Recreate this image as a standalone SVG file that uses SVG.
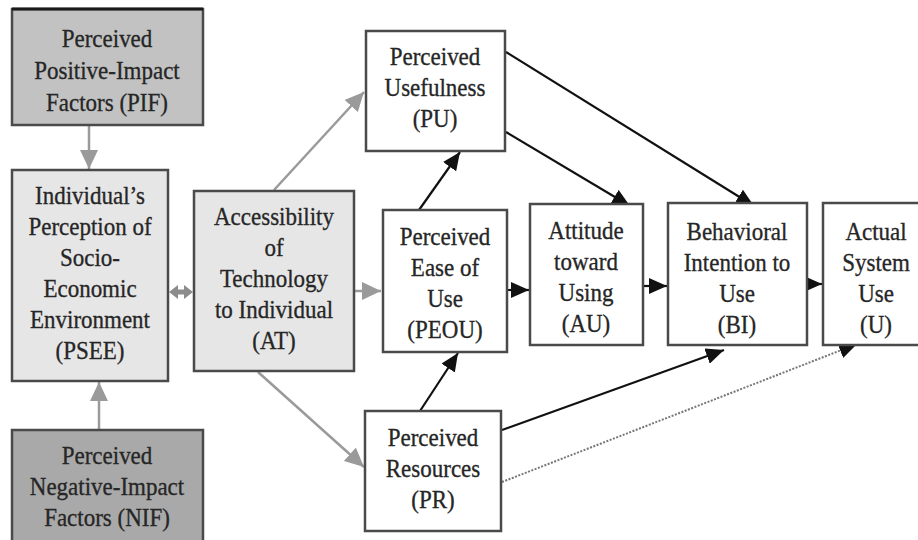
<svg xmlns="http://www.w3.org/2000/svg" width="918" height="540" viewBox="0 0 918 540">
  <style>
    .box { stroke: #4a4a4a; stroke-width: 2.5; }
    .white { fill: #ffffff; }
    .light { fill: #e6e6e6; }
    .mid { fill: #c2c2c2; }
    .dark { fill: #a9a9a9; }
    .t { font-family: "Liberation Serif", "Times New Roman", serif; font-size: 23px; fill: #262626; stroke: #262626; stroke-width: 0.3; text-anchor: middle; }
    .g { stroke: #9a9a9a; stroke-width: 2.5; fill: none; }
    .k { stroke: #111111; stroke-width: 2.2; fill: none; }
    .d { stroke: #777777; stroke-width: 2; fill: none; stroke-dasharray: 2 1.5; }
  </style>
  <defs>
    <marker id="gh" markerUnits="userSpaceOnUse" markerWidth="20" markerHeight="18" refX="19" refY="9" orient="auto">
      <path d="M0,0 L19,9 L0,18 z" fill="#9a9a9a"/>
    </marker>
    <marker id="kh" markerUnits="userSpaceOnUse" markerWidth="19" markerHeight="16" refX="18" refY="8" orient="auto">
      <path d="M0,0 L18,8 L0,16 z" fill="#111111"/>
    </marker>
  </defs>

  <rect width="918" height="540" fill="#ffffff"/>

  <!-- connectors -->
  <g id="connectors">
    <line class="g" x1="89" y1="126" x2="89" y2="169" marker-end="url(#gh)"/>
    <line class="g" x1="99" y1="430" x2="99" y2="382" marker-end="url(#gh)"/>
    <!-- short two-way link PSEE <-> AT -->
    <path d="M169,292 L178,285 L178,289.5 L184,289.5 L184,285 L193,292 L184,299 L184,294.5 L178,294.5 L178,299 Z" fill="#8c8c8c"/>
    <line class="g" x1="274" y1="190" x2="364" y2="92" marker-end="url(#gh)"/>
    <line class="g" x1="355" y1="291" x2="381" y2="291" marker-end="url(#gh)"/>
    <line class="g" x1="258" y1="372" x2="364" y2="467" marker-end="url(#gh)"/>

    <line class="k" x1="419" y1="210" x2="460" y2="152" marker-end="url(#kh)"/>
    <line class="k" x1="506" y1="132" x2="630" y2="206" marker-end="url(#kh)"/>
    <line class="k" x1="506" y1="52" x2="754" y2="206" marker-end="url(#kh)"/>
    <line class="k" x1="508" y1="290" x2="529" y2="290" marker-end="url(#kh)"/>
    <line class="k" x1="644" y1="286" x2="667" y2="286" marker-end="url(#kh)"/>
    <line class="k" x1="808" y1="284" x2="822" y2="284" marker-end="url(#kh)"/>
    <line class="k" x1="420" y1="411" x2="458" y2="353" marker-end="url(#kh)"/>
    <line class="k" x1="502" y1="430" x2="724" y2="350" marker-end="url(#kh)"/>
    <line class="d" x1="502" y1="482" x2="857" y2="344" marker-end="url(#kh)"/>
  </g>

  <!-- nodes -->
  <g id="PIF">
    <rect class="box mid" x="12" y="9" width="191" height="116"/>
    <line x1="12" y1="9" x2="203" y2="9" stroke="#1a1a1a" stroke-width="3"/>
    <text class="t" transform="translate(107,47) scale(1,1.1)"><tspan x="0" y="0">Perceived</tspan><tspan x="0" y="29">Positive-Impact</tspan><tspan x="0" y="58">Factors (PIF)</tspan></text>
  </g>

  <g id="PSEE">
    <rect class="box light" x="12" y="170" width="156" height="211"/>
    <text class="t" transform="translate(90,204) scale(1,1.1)"><tspan x="0" y="0">Individual’s</tspan><tspan x="0" y="28.2">Perception of</tspan><tspan x="0" y="56.4">Socio-</tspan><tspan x="0" y="84.6">Economic</tspan><tspan x="0" y="112.8">Environment</tspan><tspan x="0" y="141">(PSEE)</tspan></text>
  </g>

  <g id="NIF">
    <rect class="box dark" x="12" y="430" width="191" height="118"/>
    <text class="t" transform="translate(107,464) scale(1,1.1)"><tspan x="0" y="0">Perceived</tspan><tspan x="0" y="28.2">Negative-Impact</tspan><tspan x="0" y="56.4">Factors (NIF)</tspan></text>
  </g>

  <g id="AT">
    <rect class="box light" x="194" y="191" width="160" height="180"/>
    <text class="t" transform="translate(274,225) scale(1,1.1)"><tspan x="0" y="0">Accessibility</tspan><tspan x="0" y="28.2">of</tspan><tspan x="0" y="56.4">Technology</tspan><tspan x="0" y="84.6">to Individual</tspan><tspan x="0" y="112.8">(AT)</tspan></text>
  </g>

  <g id="PU">
    <rect class="box white" x="366" y="31" width="139" height="120"/>
    <text class="t" transform="translate(435,65) scale(1,1.1)"><tspan x="0" y="0">Perceived</tspan><tspan x="0" y="28.2">Usefulness</tspan><tspan x="0" y="56.4">(PU)</tspan></text>
  </g>

  <g id="PEOU">
    <rect class="box white" x="383" y="210" width="124" height="142"/>
    <text class="t" transform="translate(445,245) scale(1,1.1)"><tspan x="0" y="0">Perceived</tspan><tspan x="0" y="28.2">Ease of</tspan><tspan x="0" y="56.4">Use</tspan><tspan x="0" y="84.6">(PEOU)</tspan></text>
  </g>

  <g id="PR">
    <rect class="box white" x="365" y="411" width="136" height="120"/>
    <text class="t" transform="translate(433,446) scale(1,1.1)"><tspan x="0" y="0">Perceived</tspan><tspan x="0" y="28.2">Resources</tspan><tspan x="0" y="56.4">(PR)</tspan></text>
  </g>

  <g id="AU">
    <rect class="box white" x="530" y="204" width="113" height="141"/>
    <text class="t" transform="translate(586,239) scale(1,1.1)"><tspan x="0" y="0">Attitude</tspan><tspan x="0" y="28.2">toward</tspan><tspan x="0" y="56.4">Using</tspan><tspan x="0" y="84.6">(AU)</tspan></text>
  </g>

  <g id="BI">
    <rect class="box white" x="668" y="203" width="139" height="142"/>
    <text class="t" transform="translate(737,240) scale(1,1.1)"><tspan x="0" y="0">Behavioral</tspan><tspan x="0" y="28.2">Intention to</tspan><tspan x="0" y="56.4">Use</tspan><tspan x="0" y="84.6">(BI)</tspan></text>
  </g>

  <g id="U">
    <rect class="box white" x="823" y="203" width="100" height="142"/>
    <text class="t" transform="translate(876,240) scale(1,1.1)"><tspan x="0" y="0">Actual</tspan><tspan x="0" y="28.2">System</tspan><tspan x="0" y="56.4">Use</tspan><tspan x="0" y="84.6">(U)</tspan></text>
  </g>
</svg>
